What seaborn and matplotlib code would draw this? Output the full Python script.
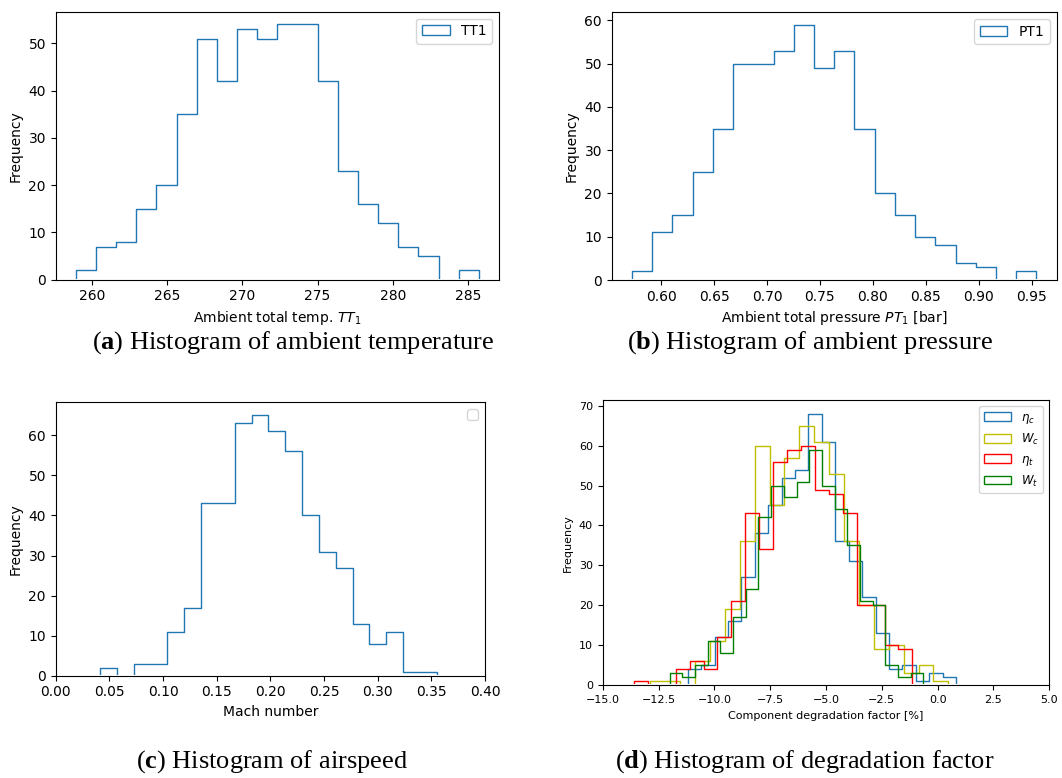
import numpy as np
import matplotlib
matplotlib.use("Agg")
import matplotlib.pyplot as plt
from matplotlib.patches import Patch
from matplotlib.transforms import Bbox, TransformedBbox
import seaborn as sns

# ---------------- data ----------------
# (a) ambient total temperature, 20 bins
tt1_range = (258.94, 285.71)
tt1_counts = [2, 7, 8, 15, 20, 35, 51, 42, 53, 51, 54, 54, 42, 23, 16, 12, 7, 5, 0, 2]

# (b) ambient total pressure, 20 bins
pt1_range = (0.5723, 0.9547)
pt1_counts = [2, 11, 15, 25, 35, 50, 50, 53, 59, 49, 53, 35, 20, 15, 10, 8, 4, 3, 0, 2]

# (c) Mach number, 20 bins
mach_range = (0.0413, 0.3550)
mach_counts = [2, 0, 3, 3, 11, 17, 43, 43, 63, 65, 61, 56, 40, 31, 27, 13, 8, 11, 1, 1]

# (d) component degradation factors, 20 bins each
eta_c_range = (-11.19, 0.82)
eta_c_counts = [4, 5, 12, 16, 27, 38, 45, 52, 54, 68, 61, 36, 31, 22, 13, 4, 5, 1, 3, 2]
w_c_range = (-12.87, 0.48)
w_c_counts = [1, 1, 0, 6, 11, 19, 36, 60, 45, 57, 65, 61, 53, 36, 20, 9, 10, 3, 5, 1]
eta_t_range = (-13.60, -1.13)
eta_t_counts = [1, 0, 0, 4, 6, 4, 12, 21, 43, 34, 56, 59, 60, 49, 48, 43, 20, 20, 10, 9]
w_t_range = (-12.00, -0.64)
w_t_counts = [3, 2, 5, 11, 8, 17, 24, 42, 50, 47, 51, 59, 50, 44, 35, 21, 20, 5, 2, 3]

deg_labels = [r"$\eta_c$", r"$W_c$", r"$\eta_t$", r"$W_t$"]
deg_colors = ["#1f77b4", "y", "r", "g"]

captions = [r"($\mathbf{a}$) Histogram of ambient temperature",
            r"($\mathbf{b}$) Histogram of ambient pressure",
            r"($\mathbf{c}$) Histogram of airspeed",
            r"($\mathbf{d}$) Histogram of degradation factor"]

# ---------------- style ----------------
plt.rcParams["font.family"] = ["DejaVu Sans"]
plt.rcParams["mathtext.rm"] = "Liberation Serif"
plt.rcParams["mathtext.bf"] = "Liberation Serif:bold"
plt.rcParams["mathtext.it"] = "Liberation Serif:italic"

W, H = 1062, 778
fig = plt.figure(figsize=(W / 100, H / 100), dpi=100)


def px_axes(left, right, top, bottom):
    ax = fig.add_axes([left / W, 1 - bottom / H, (right - left) / W, (bottom - top) / H])
    ax._px_height = bottom - top
    return ax


def step_hist(ax, rng, counts, color, label=None):
    edges = np.linspace(rng[0], rng[1], len(counts) + 1)
    centers = (edges[:-1] + edges[1:]) / 2
    n_before = len(ax.collections)
    sns.histplot(x=centers, weights=np.asarray(counts, float), bins=edges.tolist(),
                 element="step", fill=True, facecolor="none", color=color,
                 linewidth=1.0, ax=ax, label=label)
    # hide the outline's baseline under the bottom spine
    eps = 0.9 / ax._px_height
    for coll in ax.collections[n_before:]:
        coll.set_clip_box(TransformedBbox(Bbox([[0, eps], [1, 1]]), ax.transAxes))


blue = "#1f77b4"

# (a)
ax_a = px_axes(55.7, 499, 11.7, 279.7)
step_hist(ax_a, tt1_range, tt1_counts, blue)
ax_a.set_ylim(bottom=0)
ax_a.set_xlabel(r"Ambient total temp. $TT_1$", fontsize=10)
ax_a.set_ylabel("Frequency", fontsize=10)
ax_a.legend(handles=[Patch(facecolor="none", edgecolor=blue, label="TT1")],
            loc="upper right", fontsize=10)

# (b)
ax_b = px_axes(611.7, 1056.7, 12, 280)
step_hist(ax_b, pt1_range, pt1_counts, blue)
ax_b.set_ylim(bottom=0)
ax_b.set_xlabel(r"Ambient total pressure $PT_1$ [bar]", fontsize=10)
ax_b.set_ylabel("Frequency", fontsize=10)
ax_b.legend(handles=[Patch(facecolor="none", edgecolor=blue, label="PT1")],
            loc="upper right", fontsize=10)

# (c)
ax_c = px_axes(55.7, 485, 402.3, 675.7)
step_hist(ax_c, mach_range, mach_counts, blue)
ax_c.set_xlim(0, 0.40)
ax_c.set_ylim(bottom=0)
ax_c.set_xlabel("Mach number", fontsize=10)
ax_c.set_ylabel("Frequency", fontsize=10)
ax_c.legend(handles=[], loc="upper right")

# (d)
ax_d = px_axes(602.7, 1049.3, 400, 685.3)
deg_series = [(eta_c_range, eta_c_counts), (w_c_range, w_c_counts),
              (eta_t_range, eta_t_counts), (w_t_range, w_t_counts)]
for (rng, cnt), col in zip(deg_series, deg_colors):
    step_hist(ax_d, rng, cnt, col)
ax_d.set_xlim(-15, 5)
ax_d.set_ylim(bottom=0)
ax_d.tick_params(labelsize=8)
ax_d.set_xlabel("Component degradation factor [%]", fontsize=8)
ax_d.set_ylabel("Frequency", fontsize=8)
ax_d.legend(handles=[Patch(facecolor="none", edgecolor=c, label=l)
                     for c, l in zip(deg_colors, deg_labels)],
            loc="upper right", fontsize=8.5, handlelength=2.3)
for t in ax_d.get_legend().get_texts():
    t.set_math_fontfamily("dejavusans")

for ax in (ax_a, ax_b, ax_c):
    ax.tick_params(labelsize=10)

# captions
cap_pos = [(293, 349), (810, 349), (272, 768), (805, 768)]
for (x, y), txt in zip(cap_pos, captions):
    fig.text(x / W, 1 - y / H, txt, ha="center", va="baseline",
             fontsize=19, family="Liberation Serif", math_fontfamily="custom")

# axis-label math in DejaVu
for ax in (ax_a, ax_b):
    ax.xaxis.label.set_math_fontfamily("dejavusans")

fig.savefig("out.png", dpi=100)
